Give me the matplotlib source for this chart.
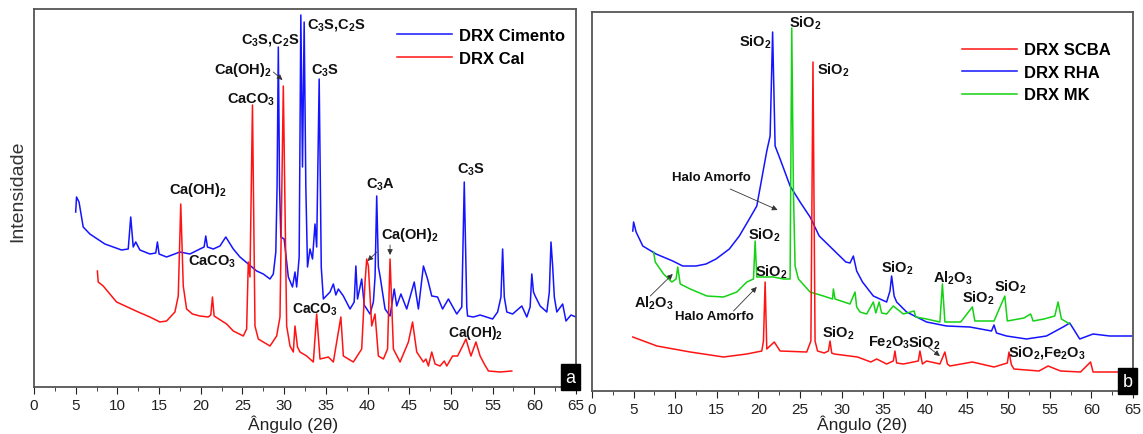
import matplotlib
matplotlib.use("Agg")
import matplotlib.pyplot as plt
from matplotlib.ticker import MultipleLocator

plt.rcParams['font.family'] = ['Liberation Sans', 'DejaVu Sans']
plt.rcParams['mathtext.fontset'] = 'custom'
plt.rcParams['mathtext.rm'] = 'Liberation Sans:bold'
plt.rcParams['mathtext.bf'] = 'Liberation Sans:bold'
plt.rcParams['mathtext.it'] = 'Liberation Sans:bold'

# ---- panel a: cement and lime (angle 2theta, intensity a.u.) ----
cim_ang = [5.0, 5.1, 5.4, 5.9, 6.7, 7.6, 8.5, 9.5, 10.5, 11.3, 11.6, 11.9, 12.2, 12.7,
           13.9, 14.6, 14.8, 15.0, 15.9, 17.5, 18.7, 19.9, 20.4, 20.6, 20.8, 21.5, 22.3,
           23.0, 23.9, 24.7, 25.7, 26.7, 27.5, 28.3, 28.7, 29.0, 29.15, 29.3, 29.45, 29.6,
           30.0, 30.5, 31.0, 31.3, 31.5, 31.8, 32.0, 32.2, 32.4, 32.6, 32.8, 33.1, 33.4,
           33.7, 33.9, 34.2, 34.45, 34.7, 35.5, 35.9, 36.2, 36.5, 37.1, 37.9, 38.4, 38.6,
           38.8, 39.3, 39.6, 40.3, 40.7, 40.9, 41.1, 41.3, 41.5, 42.1, 42.7, 43.2, 43.5,
           44.0, 44.7, 45.6, 46.1, 46.7, 47.2, 47.7, 48.4, 49.0, 49.7, 50.7, 51.3, 51.6,
           51.9, 52.0, 52.7, 53.5, 55.0, 55.6, 56.0, 56.2, 56.4, 56.7, 57.4, 58.5, 59.1,
           59.5, 59.7, 59.9, 60.1, 60.7, 61.5, 61.8, 62.0, 62.2, 62.4, 62.7, 63.4, 63.8,
           64.4, 65.0]
cim_int = [175, 190, 185, 160, 153, 148, 143, 140, 137, 138, 170, 140, 145, 137,
           133, 134, 145, 133, 130, 135, 133, 138, 140, 151, 140, 138, 141,
           150, 138, 130, 123, 116, 113, 108, 113, 135, 200, 340, 200, 150,
           148, 110, 100, 115, 100, 130, 372, 220, 365, 200, 120, 138, 128,
           163, 140, 308, 120, 88, 95, 103, 92, 98, 91, 78, 85, 121,
           88, 108, 82, 73, 85, 110, 191, 120, 111, 78, 71, 98, 81,
           93, 78, 105, 78, 121, 108, 91, 90, 78, 88, 73, 80, 205,
           80, 71, 70, 72, 68, 75, 90, 138, 90, 75, 73, 81, 70,
           80, 113, 95, 91, 81, 75, 95, 145, 121, 90, 75, 83, 66,
           72, 70]

cal_ang = [7.6, 7.7, 8.3, 9.9, 11.2, 12.5, 13.9, 15.1, 15.9, 16.9, 17.3, 17.6, 17.9,
           18.3, 19.0, 19.9, 20.9, 21.2, 21.4, 21.6, 23.1, 23.9, 25.1, 25.5, 25.7, 25.9,
           26.2, 26.5, 26.9, 27.5, 28.3, 29.1, 29.5, 29.9, 30.3, 30.7, 31.1, 31.3, 31.6,
           31.9, 32.7, 33.5, 33.9, 34.3, 35.3, 35.9, 36.8, 37.1, 38.3, 39.3, 39.7, 39.9,
           40.1, 40.5, 40.9, 41.3, 41.9, 42.4, 42.7, 43.1, 43.9, 44.9, 45.4, 45.9, 46.7,
           47.0, 47.3, 47.7, 48.1, 48.7, 49.2, 49.5, 50.2, 50.8, 51.4, 51.8, 52.4, 53.0,
           53.5, 54.0, 54.5, 55.9, 57.3]
cal_int = [116, 105, 101, 85, 80, 75, 70, 65, 66, 75, 91, 183, 101,
           78, 73, 71, 70, 72, 90, 71, 63, 56, 51, 58, 125, 110,
           282, 61, 48, 45, 41, 51, 70, 301, 61, 41, 35, 61, 40,
           35, 31, 25, 73, 28, 30, 25, 70, 31, 25, 38, 105, 128,
           121, 61, 73, 31, 28, 38, 128, 38, 25, 45, 65, 35, 25,
           28, 21, 35, 23, 21, 26, 21, 31, 31, 41, 48, 31, 45,
           31, 23, 16, 15, 16]

# ---- panel b: SCBA, RHA, MK ----
rha_ang = [4.9, 5.0, 5.3, 6.1, 7.7, 9.7, 10.9, 12.5, 13.7, 14.9, 16.5, 17.7, 18.9, 19.8,
           21.0, 21.4, 21.7, 22.0, 22.6, 23.8, 25.0, 26.2, 27.3, 28.9, 30.5, 31.0, 31.4,
           31.8, 32.5, 33.8, 35.4, 35.8, 36.0, 36.3, 36.6, 37.8, 40.2, 42.6, 45.4, 48.0,
           48.3, 48.6, 49.8, 52.2, 54.6, 56.6, 57.4, 58.0, 58.6, 60.2, 62.2, 65.0]
rha_int = [160, 169, 159, 145, 137, 130, 125, 125, 127, 132, 142, 155, 172, 185,
           240, 255, 359, 245, 232, 205, 189, 174, 155, 142, 129, 128, 135,
           120, 109, 95, 89, 100, 115, 95, 89, 79, 69, 65, 64, 60,
           66, 58, 55, 52, 55, 64, 68, 60, 52, 57, 55, 55]

mk_ang = [7.4, 7.6, 8.6, 9.6, 10.1, 10.3, 10.6, 11.8, 13.8, 15.8, 17.4, 18.6, 19.4, 19.6,
          19.8, 20.6, 21.8, 23.0, 23.8, 24.0, 24.2, 24.4, 24.8, 26.2, 27.8, 28.9, 29.0,
          29.2, 31.0, 31.6, 31.8, 32.2, 33.0, 33.8, 34.1, 34.5, 34.8, 35.4, 36.2, 37.4,
          38.7, 38.9, 40.2, 41.8, 42.1, 42.4, 44.3, 45.7, 46.0, 48.3, 49.6, 49.9, 51.9,
          52.7, 53.0, 54.3, 55.6, 56.0, 56.4, 57.4]
mk_int = [139, 129, 117, 109, 112, 124, 107, 102, 95, 94, 99, 109, 112, 150,
          114, 114, 114, 112, 112, 363, 200, 125, 112, 99, 95, 92, 102,
          92, 87, 99, 84, 79, 77, 89, 78, 89, 78, 77, 85, 77,
          80, 74, 72, 69, 107, 69, 69, 84, 70, 70, 95, 70, 73,
          77, 70, 72, 75, 89, 72, 67]

scba_ang = [4.9, 7.8, 11.8, 15.8, 18.6, 20.4, 20.6, 20.8, 21.0, 21.9, 22.6, 25.8, 26.3,
            26.55, 26.8, 27.1, 27.9, 28.4, 28.6, 28.8, 29.1, 31.9, 33.5, 34.2, 35.4, 36.2,
            36.4, 36.6, 37.4, 39.2, 39.4, 39.7, 40.2, 41.8, 42.4, 42.7, 43.0, 45.7, 48.3,
            49.9, 50.1, 50.4, 50.7, 53.7, 54.8, 56.3, 58.7, 59.9, 60.2, 65.0]
scba_int = [54, 45, 39, 34, 37, 40, 50, 109, 42, 49, 40, 39, 50,
            329, 50, 40, 38, 40, 50, 38, 37, 34, 29, 32, 27, 30,
            40, 28, 27, 30, 40, 27, 30, 27, 39, 27, 25, 29, 24,
            28, 39, 26, 22, 20, 25, 20, 19, 29, 19, 19]

W, H = 1143, 435
fig = plt.figure(figsize=(W / 100, H / 100), dpi=100)


def px_axes(l, t, r, b):
    return fig.add_axes([l / W, (H - b) / H, (r - l) / W, (b - t) / H])


def style(ax, ytop, xlab_x, xlab_y):
    ax.set_xlim(0, 65)
    ax.set_ylim(0, ytop)
    ax.set_yticks([])
    ax.xaxis.set_major_locator(MultipleLocator(5))
    ax.xaxis.set_minor_locator(MultipleLocator(2.5))
    ax.tick_params(axis='x', which='major', direction='out', length=5,
                   labelsize=11, colors='#222', pad=3)
    ax.tick_params(axis='x', which='minor', direction='out', length=3, colors='#222')
    for s in ax.spines.values():
        s.set_color('#555')
        s.set_linewidth(1.3)
    ax.set_xlabel('Ângulo (2θ)', fontsize=12.5, color='#222')
    ax.xaxis.set_label_coords(xlab_x, xlab_y)


def lab(ax, x, y, s, size=10.5):
    ax.text(x, y, s, fontsize=size, fontweight='bold', ha='center', va='center',
            color='#111')


def arrow(ax, x0, y0, x1, y1):
    ax.annotate('', xy=(x1, y1), xytext=(x0, y0),
                arrowprops=dict(arrowstyle='-|>', color='#333', lw=0.6,
                                mutation_scale=8, shrinkA=0, shrinkB=0))


def tag(ax, s):
    ax.text(0.999, 0.003, s, transform=ax.transAxes, ha='right', va='bottom',
            fontsize=13, color='white',
            bbox=dict(boxstyle='square,pad=0.25', fc='black', ec='black'))


blue, red, green = '#1414ff', '#ff1414', '#14d214'
leg_kw = dict(loc='upper left', frameon=False, handlelength=3.3, handletextpad=0.4,
              labelspacing=0.45, borderpad=0.3, prop={'weight': 'bold', 'size': 12})

# panel a
ax1 = px_axes(34, 10, 576, 388)
style(ax1, 378, 0.478, -0.074)
l1, = ax1.plot(cim_ang, cim_int, color=blue, lw=1.1, label='DRX Cimento')
l2, = ax1.plot(cal_ang, cal_int, color=red, lw=1.1, label='DRX Cal')
ax1.set_ylabel('Intensidade', fontsize=14, color='#333')
ax1.yaxis.set_label_coords(-0.014, 0.52)
ax1.legend(handles=[l1, l2], bbox_to_anchor=(0.645, 0.985), **leg_kw)

lab(ax1, 19.7, 198, r'Ca(OH)$_2$')
lab(ax1, 21.3, 126, r'CaCO$_3$')
lab(ax1, 26.0, 288, r'CaCO$_3$')
lab(ax1, 25.0, 318, r'Ca(OH)$_2$')
arrow(ax1, 28.7, 315, 29.8, 307)
lab(ax1, 28.3, 348, r'C$_3$S,C$_2$S')
lab(ax1, 36.3, 363, r'C$_3$S,C$_2$S')
lab(ax1, 34.9, 317, r'C$_3$S')
lab(ax1, 41.6, 203, r'C$_3$A')
lab(ax1, 52.4, 218, r'C$_3$S')
lab(ax1, 45.1, 153, r'Ca(OH)$_2$')
arrow(ax1, 41.1, 135, 40.0, 126)
arrow(ax1, 42.7, 142, 42.7, 132)
lab(ax1, 33.7, 78, r'CaCO$_3$', size=10)
lab(ax1, 52.9, 55, r'Ca(OH)$_2$', size=10)
tag(ax1, 'a')

# panel b
ax2 = px_axes(592, 13, 1133, 392)
style(ax2, 379, 0.5, -0.062)
h_rha, = ax2.plot(rha_ang, rha_int, color=blue, lw=1.1, label='DRX RHA')
h_mk, = ax2.plot(mk_ang, mk_int, color=green, lw=1.1, label='DRX MK')
h_scba, = ax2.plot(scba_ang, scba_int, color=red, lw=1.1, label='DRX SCBA')
ax2.legend(handles=[h_scba, h_rha, h_mk], bbox_to_anchor=(0.66, 0.955), **leg_kw)

lab(ax2, 19.6, 350, r'SiO$_2$')
lab(ax2, 25.6, 369, r'SiO$_2$')
lab(ax2, 29.0, 322, r'SiO$_2$')
lab(ax2, 14.4, 214, 'Halo Amorfo', size=9.5)
arrow(ax2, 16.6, 202, 22.3, 181)
lab(ax2, 20.7, 157, r'SiO$_2$')
lab(ax2, 21.6, 120, r'SiO$_2$')
lab(ax2, 7.4, 89, r'Al$_2$O$_3$')
arrow(ax2, 7.0, 95, 9.7, 117)
lab(ax2, 14.7, 75, 'Halo Amorfo', size=9.5)
arrow(ax2, 17.0, 80, 19.8, 104)
lab(ax2, 29.6, 59, r'SiO$_2$')
lab(ax2, 36.7, 124, r'SiO$_2$')
lab(ax2, 43.3, 114, r'Al$_2$O$_3$')
lab(ax2, 46.4, 94, r'SiO$_2$')
lab(ax2, 50.2, 105, r'SiO$_2$')
lab(ax2, 35.7, 49, r'Fe$_2$O$_3$')
lab(ax2, 39.9, 49, r'SiO$_2$')
arrow(ax2, 40.4, 44, 41.8, 35)
lab(ax2, 54.7, 39, r'SiO$_2$,Fe$_2$O$_3$')
tag(ax2, 'b')

fig.savefig('out.png', dpi=100)
